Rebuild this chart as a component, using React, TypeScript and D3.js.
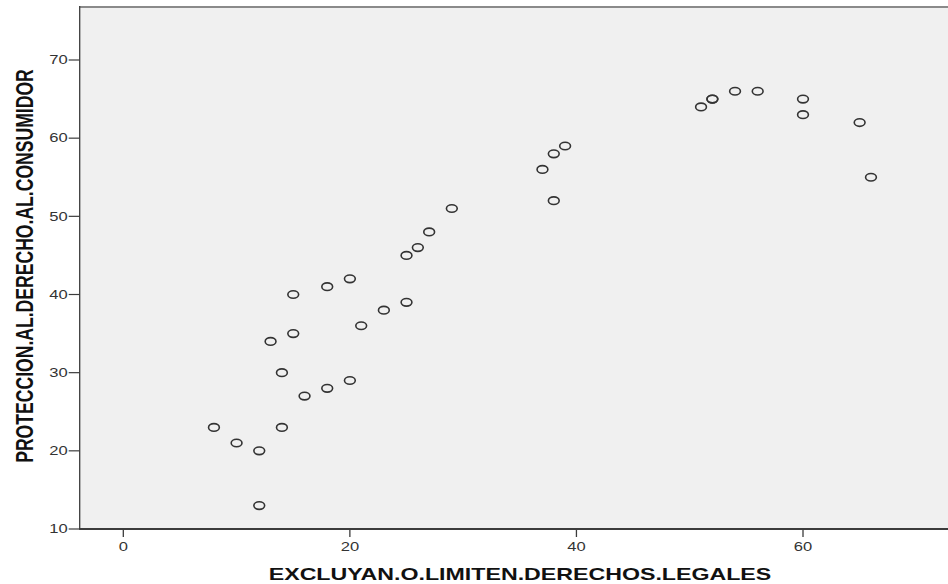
import React from "react";
import * as d3 from "d3";

const xValues = [8, 10, 12, 12, 14, 14, 13, 15, 15, 16, 18, 20, 18, 20, 21, 23, 25, 25, 26, 27, 29, 37, 38, 39, 38, 51, 52, 52, 54, 56, 60, 60, 65, 66];
const yValues = [23, 21, 20, 13, 23, 30, 34, 35, 40, 27, 28, 29, 41, 42, 36, 38, 39, 45, 46, 48, 51, 56, 58, 59, 52, 64, 65, 65, 66, 66, 65, 63, 62, 55];
const xTicks = [0, 20, 40, 60];
const yTicks = [10, 20, 30, 40, 50, 60, 70];
const xTitle = "EXCLUYAN.O.LIMITEN.DERECHOS.LEGALES";
const yTitle = "PROTECCION.AL.DERECHO.AL.CONSUMIDOR";

const W = 948;
const H = 584;
const left = 79.7;
const right = 948;
const top = 7;
const bottom = 529;

export default function App() {
  const x = d3.scaleLinear().domain([-3.85, 72.8]).range([left, right]);
  const y = d3.scaleLinear().domain([10, 76.78]).range([bottom, top]);
  const font = "'Liberation Sans', Arial, sans-serif";
  const sx = 1.38;
  return (
    <svg
      width={W}
      height={H}
      style={{ position: "absolute", left: 0, top: 0, display: "block", background: "#fff" }}
    >
      <rect x={left} y={top} width={right - left} height={bottom - top} fill="#f0f0f0" />
      <line x1={left} x2={right} y1={top} y2={top} stroke="#8a8a8a" strokeWidth={2} />
      <line x1={left} x2={left} y1={top - 1} y2={bottom} stroke="#3c3c3c" strokeWidth={1.3} />
      <line x1={left - 0.6} x2={right} y1={bottom} y2={bottom} stroke="#3c3c3c" strokeWidth={1.8} />
      {yTicks.map((t) => (
        <g key={"y" + t}>
          <line x1={left - 11} x2={left} y1={y(t)} y2={y(t)} stroke="#3c3c3c" strokeWidth={1.2} />
          <text
            transform={`translate(${left - 12},${y(t)}) scale(${sx},1)`}
            textAnchor="end"
            dy="0.36em"
            fontFamily={font}
            fontSize={12}
            fill="#333"
          >
            {t}
          </text>
        </g>
      ))}
      {xTicks.map((t) => (
        <g key={"x" + t}>
          <line x1={x(t)} x2={x(t)} y1={bottom} y2={bottom + 8} stroke="#3c3c3c" strokeWidth={1.3} />
          <text
            transform={`translate(${x(t)},${551}) scale(${sx},1)`}
            textAnchor="middle"
            fontFamily={font}
            fontSize={12}
            fill="#333"
          >
            {t}
          </text>
        </g>
      ))}
      {xValues.map((v, i) => (
        <ellipse
          key={"p" + i}
          cx={x(v)}
          cy={y(yValues[i])}
          rx={5.4}
          ry={3.8}
          fill="none"
          stroke="#333"
          strokeWidth={1.6}
        />
      ))}
      <text
        transform={`translate(${520},${580}) scale(${sx},1)`}
        textAnchor="middle"
        fontFamily={font}
        fontWeight="bold"
        fontSize={16.8}
        fill="#111"
      >
        {xTitle}
      </text>
      <text
        transform={`translate(${33},${266}) scale(${sx},1) rotate(-90)`}
        textAnchor="middle"
        fontFamily={font}
        fontWeight="bold"
        fontSize={17.6}
        fill="#111"
      >
        {yTitle}
      </text>
    </svg>
  );
}
